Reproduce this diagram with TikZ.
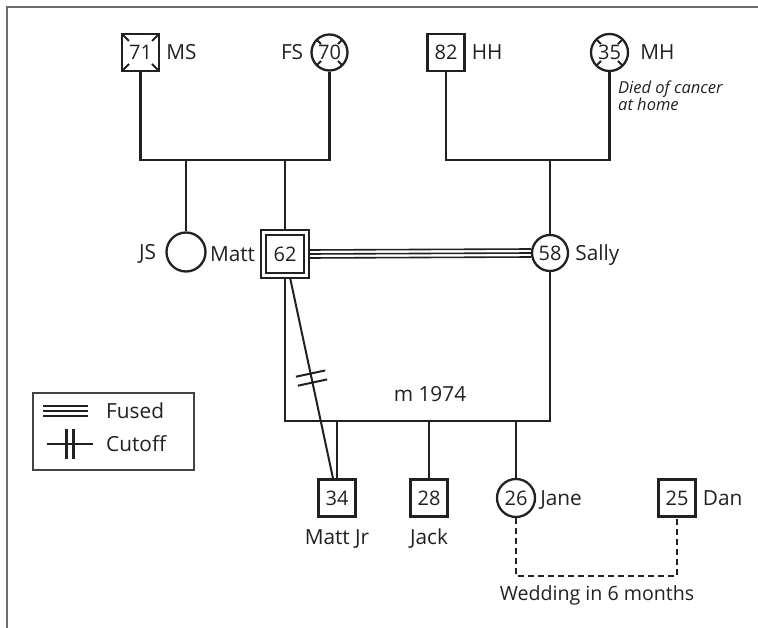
\documentclass[tikz,border=0pt]{standalone}
\usepackage{fontspec}
\setmainfont{Open Sans}
\usetikzlibrary{calc,positioning}
\definecolor{LineClr}{rgb}{0.14,0.12,0.13}
\definecolor{FrameClr}{rgb}{0.42,0.42,0.42}

\begin{document}
\begin{tikzpicture}[x=1pt,y=-1pt,
  every node/.style={text=LineClr},
  link/.style={line width=2.3pt,draw=LineClr},
  fused/.style={line width=1.6pt,draw=LineClr},
  plan/.style={link,dash pattern=on 6pt off 4pt},
  male/.style={draw=LineClr,line width=2.3pt,rectangle,minimum size=37pt,inner sep=0pt,
    font=\fontsize{20}{20}\selectfont},
  female/.style={draw=LineClr,line width=2.3pt,circle,minimum size=37pt,inner sep=0pt,
    font=\fontsize{20}{20}\selectfont},
  deadbox/.style={path picture={
    \foreach \c/\dx/\dy in {north west/7/7,north east/-7/7,south west/7/-7,south east/-7/-7}
      \draw[link,line width=1.8pt] (path picture bounding box.\c) -- ++(\dx,\dy);}},
  deadcirc/.style={path picture={
    \foreach \a in {45,135,225,315}
      \draw[link,line width=1.8pt] ($(path picture bounding box.center)+(\a:19)$)
        -- ($(path picture bounding box.center)+(\a:12)$);}},
  tag/.style={inner sep=0pt,text height=14.6pt,text depth=0pt,
    font=\fontsize{20.8}{24}\selectfont}]

\useasboundingbox (0,0) rectangle (758,628);
\draw[FrameClr,line width=1.6pt] (7,628) -- (7,7) -- (758,7);

% people
\node[male,deadbox] (MS) at (140.5,52.5) {71};
\node[female,deadcirc,minimum size=36pt] (FS) at (329.5,52.5) {70};
\node[male] (HH) at (446,52.5) {82};
\node[female,deadcirc] (MH) at (609.5,52.5) {35};
\node[female,minimum size=39pt] (JS) at (186,252) {};
\node[rectangle,draw=LineClr,line width=1.5pt,minimum size=48pt] (MattO) at (285,254) {};
\node[male,line width=2.6pt,minimum size=38pt] (Matt) at (MattO) {62};
\node[female,minimum size=36pt] (Sally) at (550,253) {58};
\node[male] (MattJr) at (337,498) {34};
\node[male] (Jack) at (429,498) {28};
\node[female,minimum size=38pt] (Jane) at (516,498) {26};
\node[male] (Dan) at (677,498) {25};

\node[tag,right=6pt of MS] (lMS) {MS};
\node[tag,left=7pt of FS] (lFS) {FS};
\node[tag,right=6pt of HH] (lHH) {HH};
\node[tag,right=11pt of MH] (lMH) {MH};
\node[tag,left=9pt of JS] (lJS) {JS};
\node[tag,left=5pt of MattO] (lMatt) {Matt};
\node[tag,right=6pt of Sally] (lSally) {Sally};
\node[tag,below=12pt of MattJr] (lMattJr) {Matt Jr};
\node[tag,below=12pt of Jack] (lJack) {Jack};
\node[tag,right=4pt of Jane] (lJane) {Jane};
\node[tag,right=6pt of Dan] (lDan) {Dan};
\node[anchor=north west,inner sep=0pt,align=left,
  font=\fontsize{16.5}{16.5}\selectfont\itshape] (note) at ($(MH.south)+(8.5,9)$)
  {Died of cancer\\at home};

% family lines
\coordinate (sib1) at (234,160);
\coordinate (sib2) at (528,160);
\draw[link] (MS.south) |- (sib1) -| (FS.south);
\draw[link] (JS.north) -- (JS.north |- sib1);
\draw[link] (MattO.north) -- (MattO.north |- sib1);
\draw[link] (HH.south) |- (sib2) -| (MH.south);
\draw[link] (Sally.north) -- (Sally.north |- sib2);

\foreach \d in {-4,0,4}
  \draw[fused] ($(MattO.east)+(0,\d)$) -- ($(Sally.west)+(0,\d)$);

\coordinate (wed) at (430,421);
\draw[link] (MattO.south) |- (wed) -| (Sally.south);
\node[tag,above=19pt of wed] (year) {m 1974};
\foreach \k in {MattJr,Jack,Jane}
  \draw[link] (\k.north) -- (\k.north |- wed);

% cutoff
\coordinate (cutend) at ($(MattJr.north)+(-4,0)$);
\draw[link,line width=2pt] (MattO) -- (cutend);
\foreach \t in {0.533,0.573}
  \draw[link,line width=2pt] ($(MattO)!\t!(cutend)!15pt!90:(cutend)$)
    -- ($(MattO)!\t!(cutend)!15pt!-90:(cutend)$);

% engagement
\coordinate (plan) at (597,576);
\draw[plan] (Jane.south) |- (plan) -| (Dan.south);
\node[tag,below=10pt of plan,font=\fontsize{19.6}{24}\selectfont] (lplan) {Wedding in 6 months};

% legend
\node[draw=LineClr!85,line width=1.3pt,minimum width=161pt,minimum height=77pt,
  inner sep=0pt] (legend) at (113.5,431.5) {};
\coordinate (fuse) at (65.5,411);
\coordinate (cut) at (70,444);
\foreach \d in {-5,0,5}
  \draw[fused,line width=1.9pt] ($(fuse)+(-22.5,\d)$) -- ($(fuse)+(22.5,\d)$);
\draw[link] ($(cut)+(-23,0)$) -- ($(cut)+(23,0)$);
\foreach \dx in {-3.5,3.5}
  \draw[link] ($(cut)+(\dx,-15)$) -- ($(cut)+(\dx,15)$);
\node[tag,anchor=west] (lfuse) at (106,411) {Fused};
\node[tag,anchor=west] (lcut) at (106,444) {Cutoff};

\end{tikzpicture}
\end{document}
